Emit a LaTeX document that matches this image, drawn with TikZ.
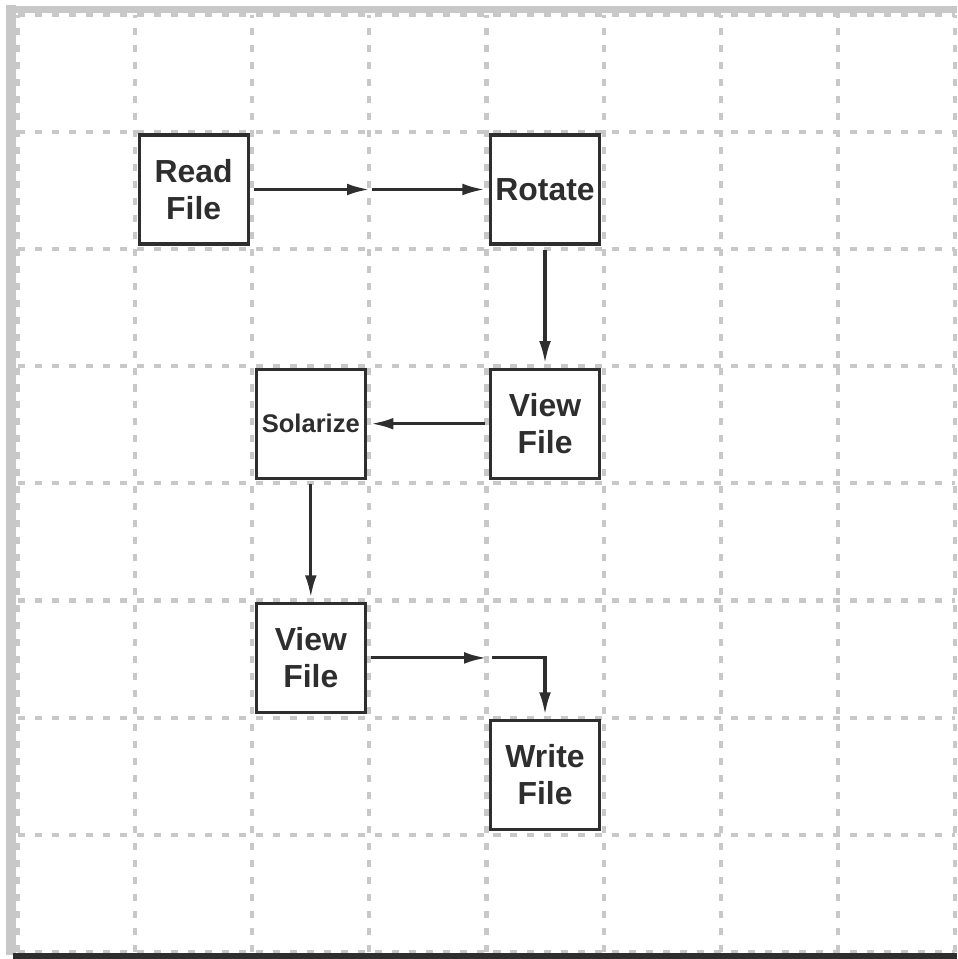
\documentclass[tikz,border=0pt]{standalone}
\usepackage{fontspec}
\setmainfont{Liberation Sans}
\usepackage{tikz}
\usetikzlibrary{arrows.meta}
\definecolor{ink}{HTML}{2E2E2E}
\definecolor{gridgray}{HTML}{C8C8C8}

\begin{document}
\begin{tikzpicture}[x=2cm,y=-2cm,
    stepbox/.style={draw=ink,text=ink,line width=1.6pt,fill=white,minimum size=1.86cm,
      inner sep=0pt,outer sep=0.1cm,align=center,
      font=\fontsize{15.5}{18}\selectfont\bfseries},
    flow/.style={ink,line width=1.5pt,-{Latex[length=0.38cm,width=0.2cm]}},
    gridline/.style={gridgray,line width=2pt,dash pattern=on 0.12cm off 0.17cm}]
        \useasboundingbox (-0.154,-0.128) rectangle (8.019,8.061);
        % background grid and frame
        \draw[gridline,step=2cm] (0,0) grid (8,8);
        \draw[gridgray,line width=0.17cm] (-0.064,-0.085) -- (-0.064,8.03);
        \draw[gridgray,line width=0.12cm] (-0.085,-0.043) -- (8.019,-0.043);
        \draw[ink,line width=0.14cm] (-0.043,8.044) -- (8.019,8.044);
        % steps
        \node[stepbox] (read) at (1.5,1.49) {Read\\File};
        \node[stepbox] (rotate) at (4.5,1.49) {Rotate};
        \node[stepbox,font=\fontsize{12.4}{15}\selectfont\bfseries] (solar) at (2.5,3.49) {Solarize};
        \node[stepbox] (view1) at (4.5,3.49) {View\\File};
        \node[stepbox] (view2) at (2.5,5.49) {View\\File};
        \node[stepbox] (write) at (4.5,6.49) {Write\\File};
        % links
        \coordinate (m1) at (3,1.49);
        \coordinate (m2) at (4,5.49);
        \draw[flow] (read) -- (m1);
        \draw[flow,shorten <=0.05cm] (m1) -- (rotate);
        \draw[flow] (rotate) -- (view1);
        \draw[flow] (view1) -- (solar);
        \draw[flow] (solar) -- (view2);
        \draw[flow] (view2) -- (m2);
        \draw[flow,shorten <=0.1cm] (m2) -| (write);
      \end{tikzpicture}
\end{document}
